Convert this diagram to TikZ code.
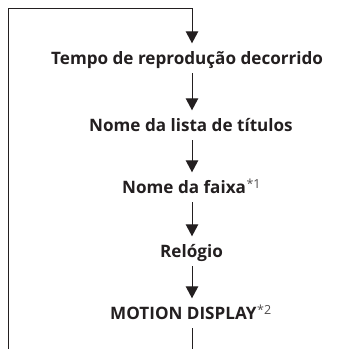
\documentclass[tikz,border=0pt]{standalone}
\usepackage{fontspec}
\setmainfont{Open Sans}
\usetikzlibrary{arrows.meta}
\definecolor{ink}{HTML}{231F20}
\begin{document}
\begin{tikzpicture}[x=1pt,y=-1pt,
  lbl/.style={anchor=base west,inner xsep=0pt,inner ysep=6pt,text height=14.5pt,text depth=3pt,
    text=ink,font=\fontsize{17.1}{19}\selectfont\bfseries},
  link/.style={draw=ink,line width=1pt},
  arr/.style={link,-{Triangle[width=12.5pt,length=12pt]}}]
\newcommand{\fnm}[1]{\kern0.6pt\raisebox{4.4pt}{\fontsize{12.5}{13}\selectfont\mdseries\color{ink!80}*#1}}
\useasboundingbox (0,0) rectangle (337,349);
\coordinate (axis) at (192,0);
\node[lbl] (t1) at (51,64) {Tempo de reprodução decorrido};
\node[lbl] (t2) at (89,131) {Nome da lista de títulos};
\node[lbl] (t3) at (122,193) {Nome da faixa\fnm{1}};
\node[lbl] (t4) at (160,257) {Relógio};
\node[lbl] (t5) at (110,319) {MOTION DISPLAY\fnm{2}};
\coordinate (bl) at (8,349);
\coordinate (tl) at (8,8);
\coordinate (bb) at (192,349);
\draw[arr] (bl) -- (tl) -- (tl -| axis) -- (t1.north -| axis);
\draw[arr] (t1.south -| axis) -- (t2.north -| axis);
\draw[arr] (t2.south -| axis) -- (t3.north -| axis);
\draw[arr] (t3.south -| axis) -- (t4.north -| axis);
\draw[arr] (t4.south -| axis) -- (t5.north -| axis);
\draw[link] (t5.south -| axis) -- (bb);
\end{tikzpicture}
\end{document}
